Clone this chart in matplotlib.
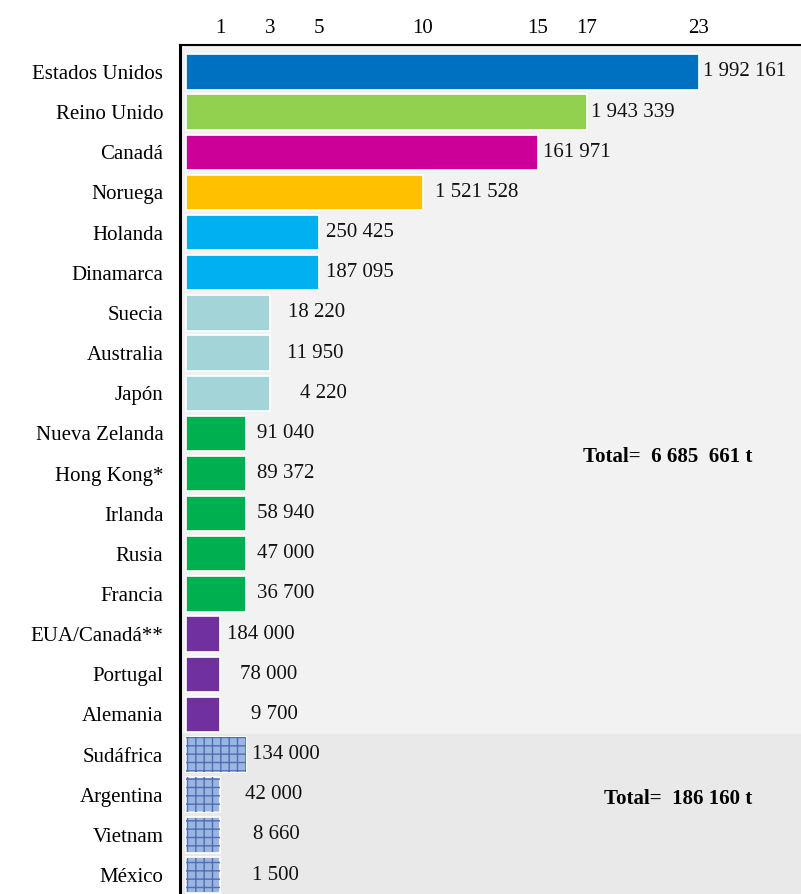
import numpy as np
import matplotlib
matplotlib.use("Agg")
import matplotlib.pyplot as plt
from matplotlib.transforms import blended_transform_factory

plt.rcParams['font.family'] = ['Liberation Serif', 'DejaVu Serif']

countries = ["Estados Unidos", "Reino Unido", "Canadá", "Noruega", "Holanda",
             "Dinamarca", "Suecia", "Australia", "Japón", "Nueva Zelanda",
             "Hong Kong*", "Irlanda", "Rusia", "Francia", "EUA/Canadá**",
             "Portugal", "Alemania", "Sudáfrica", "Argentina", "Vietnam", "México"]
scores = [23, 17, 15, 10, 5, 5, 3, 3, 3, 2, 2, 2, 2, 2, 1, 1, 1, 2, 1, 1, 1]
value_labels = ["1 992 161", "1 943 339", "161 971", "1 521 528", "250 425",
                "187 095", "18 220", "11 950", "4 220", "91 040", "89 372",
                "58 940", "47 000", "36 700", "184 000", "78 000", "9 700",
                "134 000", "42 000", "8 660", "1 500"]
tick_values = [1, 3, 5, 10, 15, 17, 23]
totals = ["Total=  6 685  661 t", "Total=  186 160 t"]

colors = ["#0070c0", "#92d050", "#cc0099", "#ffc000", "#00b0f0", "#00b0f0",
          "#a3d4d8", "#a3d4d8", "#a3d4d8", "#00b050", "#00b050", "#00b050",
          "#00b050", "#00b050", "#7030a0", "#7030a0", "#7030a0",
          "#9bb4e0", "#9bb4e0", "#9bb4e0", "#9bb4e0"]
textured = [False] * 17 + [True] * 4
# horizontal offsets of the value labels, in pixels
label_pad = [4, 4, 5, 12, 7, 7, 18, 17, 30, 11, 11, 11, 11, 11, 7, 20, 31, 6, 25, 33, 32]

# the original axis is not linear: piecewise scale
scale_vals = [-10, 0, 1, 2, 3, 5, 10, 15, 17, 23, 40]
scale_px = [-340, 0, 34, 60, 84, 133, 237, 352, 401, 513, 829]


def fwd(v):
    return np.interp(v, scale_vals, scale_px)


def inv(p):
    return np.interp(p, scale_px, scale_vals)


FS = 15

fig = plt.figure(figsize=(8.01, 8.94), dpi=100)
ax = fig.add_axes([180 / 801, 0, 621 / 801, 1 - 45 / 894])
ax.set_xscale('function', functions=(fwd, inv))
ax.set_facecolor("#f2f2f2")

y = np.arange(len(countries))
ax.axhspan(16.5, 25, color="#e9e9e9", zorder=0)

for i in range(len(countries)):
    ax.barh(y[i], scores[i], height=0.88, color=colors[i], edgecolor="white",
            linewidth=1.2, zorder=2)
    if textured[i]:
        ax.barh(y[i], scores[i], height=0.86, facecolor="none",
                edgecolor="#4d6fb3", hatch="++", linewidth=0, zorder=3)
    ax.annotate(value_labels[i], (scores[i], y[i]), xytext=(label_pad[i], 0),
                textcoords="offset pixels", va="center", ha="left",
                fontsize=FS, color="#111111", zorder=4)

ax.set_xlim(inv(-6), inv(615))
ax.set_ylim((894 - 72) / 40.15, (45 - 72) / 40.15)

ax.set_yticks(y)
ax.set_yticklabels(countries, fontsize=FS)
ax.set_xticks(tick_values)
ax.set_xticklabels([str(t) for t in tick_values], fontsize=FS)
ax.xaxis.set_ticks_position('top')
ax.tick_params(axis='x', length=0, pad=5)
ax.tick_params(axis='y', length=0, pad=12)
ax.xaxis.set_minor_locator(plt.NullLocator())

for s in ["bottom", "right"]:
    ax.spines[s].set_visible(False)
ax.spines["top"].set_linewidth(1.5)
ax.spines["left"].set_linewidth(2.2)

tr = blended_transform_factory(ax.transAxes, ax.transData)
ax.text((752 - 180) / 621, 9.6, totals[0], transform=tr, ha="right",
        va="center", fontsize=FS, fontweight="bold")
ax.text((752 - 180) / 621, 18.1, totals[1], transform=tr, ha="right",
        va="center", fontsize=FS, fontweight="bold")

fig.savefig("out.png", dpi=100)
